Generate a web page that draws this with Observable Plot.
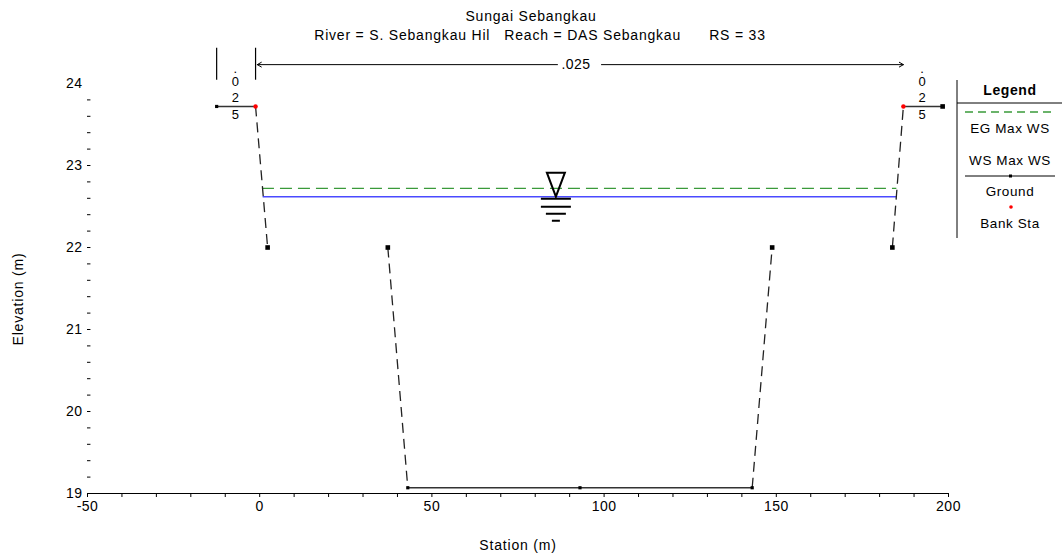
<!DOCTYPE html>
<html><head><meta charset="utf-8">
<script src="https://cdn.jsdelivr.net/npm/d3@7"></script>
<script src="https://cdn.jsdelivr.net/npm/@observablehq/plot@0.6"></script>
<style>
body{margin:0;background:#fff;font-family:"Liberation Sans",Arial,sans-serif;}
#wrap{position:relative;width:1062px;height:555px;overflow:hidden;}
#wrap svg{display:block;}
.t{position:absolute;white-space:pre;font-size:14px;letter-spacing:0.8px;color:#000;transform:translateX(-50%);line-height:16px;}
#legend{position:absolute;left:950px;top:75px;letter-spacing:0.6px;}
</style></head><body>
<div id="wrap">
<div id="chart"></div>
<div class="t" style="left:531px;top:8px">Sungai Sebangkau</div>
<div class="t" style="left:540px;top:27px">River = S. Sebangkau Hil   Reach = DAS Sebangkau      RS = 33</div>
<div class="t" style="left:518px;top:537px">Station (m)</div>
<div class="t" style="left:18px;top:291px;transform:translateX(-50%) rotate(-90deg);">Elevation (m)</div>
<svg id="legend" width="112" height="170" font-family="Liberation Sans, Arial, sans-serif" font-size="13.5">
  <line x1="7" y1="5" x2="7" y2="163" stroke="#000" stroke-width="1"/>
  <text x="60" y="20" text-anchor="middle" font-weight="bold" font-size="14">Legend</text>
  <line x1="7" y1="28" x2="112" y2="28" stroke="#000" stroke-width="1"/>
  <line x1="15" y1="37" x2="105" y2="37" stroke="#3a9a3a" stroke-width="1.3" stroke-dasharray="8,5"/>
  <text x="60" y="58" text-anchor="middle">EG Max WS</text>
  <text x="60" y="90" text-anchor="middle">WS Max WS</text>
  <line x1="15" y1="101" x2="105" y2="101" stroke="#000" stroke-width="1"/>
  <rect x="59" y="99.5" width="3" height="3" fill="#000"/>
  <text x="60" y="121" text-anchor="middle">Ground</text>
  <circle cx="61" cy="132" r="1.8" fill="red"/>
  <text x="60" y="153" text-anchor="middle">Bank Sta</text>
</svg>
</div>
<script>
// ---- data ----
const groundStation = [-12.5, -1.2, 2.3, 37.2, 43.0, 93.0, 143.0, 148.8, 183.7, 186.9, 198.3];
const groundElev    = [23.72, 23.72, 22.0, 22.0, 19.07, 19.07, 19.07, 22.0, 22.0, 23.72, 23.72];
const groundGaps = [[2.3, 37.2], [148.8, 183.7]]; // segments not drawn
const bankStation = [-1.2, 186.9];
const bankElev = [23.72, 23.72];
const wsElev = 22.62;      // WS Max WS
const wsStation = [1.0, 184.9];
const egElev = 22.72;      // EG Max WS
const egStation = [0.8, 185.0];
const wsSymbolStation = 86;
const manningN = ".025";
const nChangeStation = [-12.5, -1.2];
const xTicks = [-50, 0, 50, 100, 150, 200];
const xMinorTicks = d3.range(-50, 201, 10);
const yTicks = [19, 20, 21, 22, 23, 24];
const yMinorTicks = d3.range(19.2, 23.9, 0.2);

// ---- derived ----
const pts = groundStation.map((s, i) => ({s, e: groundElev[i]}));
const segs = [];
for (let i = 0; i < pts.length - 1; i++) {
  const a = pts[i], b = pts[i + 1];
  if (groundGaps.some(([g1, g2]) => g1 === a.s && g2 === b.s)) continue;
  segs.push({x1: a.s, y1: a.e, x2: b.s, y2: b.e, sloped: a.e !== b.e});
}
const sqPts = pts.filter(p => p.e === 22.0 || p.s === 198.3);
const smallPts = pts.filter(p => !(p.e === 22.0 || p.s === 198.3) && !bankStation.includes(p.s));
const banks = bankStation.map((s, i) => ({s, e: bankElev[i]}));
const nElev = 24.23;
const nMid = (bankStation[0] + bankStation[1]) / 2;

const wsSymbol = {
  draw(ctx) {
    ctx.moveTo(-9, -24); ctx.lineTo(9, -24); ctx.lineTo(0, 0); ctx.closePath();
    ctx.moveTo(-15, 2); ctx.lineTo(15, 2);
    ctx.moveTo(-15, 10); ctx.lineTo(15, 10);
    ctx.moveTo(-10, 17); ctx.lineTo(10, 17);
    ctx.moveTo(-4, 24); ctx.lineTo(4, 24);
  }
};

const font = "Liberation Sans, Arial, sans-serif";
const fmt = d => String(d);
const chart = Plot.plot({
  width: 1062, height: 555,
  marginLeft: 87, marginRight: 114, marginTop: 83, marginBottom: 62,
  style: {fontFamily: font, fontSize: "14px", color: "#000", background: "#fff", letterSpacing: "0.5px"},
  x: {domain: [-50, 200]},
  y: {domain: [19, 24]},
  marks: [
    Plot.axisX({ticks: xMinorTicks, tickSize: 4, tickFormat: () => "", label: null}),
    Plot.axisX({ticks: xTicks, tickSize: 0, tickPadding: 8, tickFormat: fmt, label: null, fontSize: 14}),
    Plot.axisY({ticks: yTicks, tickSize: 0, tickPadding: 5, tickFormat: fmt, label: null, fontSize: 14}),
    Plot.ruleY(yMinorTicks, {x1: -50, x2: -49, stroke: "#000"}),
    Plot.ruleY([19], {stroke: "#000"}),
    // Manning's n markers
    Plot.ruleX(nChangeStation, {y1: 24.04, y2: 24.43, stroke: "#000", strokeWidth: 1.2}),
    Plot.arrow([0], {x1: nMid, x2: bankStation[0] + 0.5, y1: nElev, y2: nElev, insetStart: 22, headLength: 7, stroke: "#000", strokeWidth: 1}),
    Plot.arrow([0], {x1: nMid, x2: bankStation[1], y1: nElev, y2: nElev, insetStart: 22, headLength: 7, stroke: "#000", strokeWidth: 1}),
    Plot.text([manningN], {x: nMid - 1, y: nElev, text: d => d, fontSize: 14}),
    // vertical n labels
    ...[bankStation[0] - 5.8, bankStation[1] + 5.5].flatMap(s => [
      Plot.text(["."], {x: s, y: bankElev[0], text: d => d, dy: -38, fontSize: 13}),
      Plot.text(["0"], {x: s, y: bankElev[0], text: d => d, dy: -25, fontSize: 13}),
      Plot.text(["2"], {x: s, y: bankElev[0], text: d => d, dy: -9, fontSize: 13}),
      Plot.text(["5"], {x: s, y: bankElev[0], text: d => d, dy: 8, fontSize: 13})
    ]),
    // water surfaces
    Plot.ruleY([egElev], {x1: egStation[0], x2: egStation[1], stroke: "#3a9a3a", strokeWidth: 1.3, strokeDasharray: "12,6"}),
    Plot.ruleY([wsElev], {x1: wsStation[0], x2: wsStation[1], stroke: "#4a4aff", strokeWidth: 1.5}),
    Plot.dot([0], {x: wsSymbolStation, y: wsElev, symbol: wsSymbol, stroke: "#000", fill: "none", strokeWidth: 2}),
    // ground
    Plot.link(segs.filter(d => !d.sloped), {x1: "x1", y1: "y1", x2: "x2", y2: "y2", stroke: "#333", strokeWidth: 1.5}),
    Plot.link(segs.filter(d => d.sloped), {x1: "x1", y1: "y1", x2: "x2", y2: "y2", stroke: "#222", strokeWidth: 1.3, strokeDasharray: "10,6"}),
    Plot.dot(sqPts, {x: "s", y: "e", symbol: "square", r: 2.6, fill: "#000", stroke: "none"}),
    Plot.dot(smallPts, {x: "s", y: "e", symbol: "square", r: 1.8, fill: "#000", stroke: "none"}),
    Plot.dot(banks, {x: "s", y: "e", r: 2.2, fill: "red", stroke: "none"})
  ]
});
document.getElementById("chart").appendChild(chart);
</script>
</body></html>
